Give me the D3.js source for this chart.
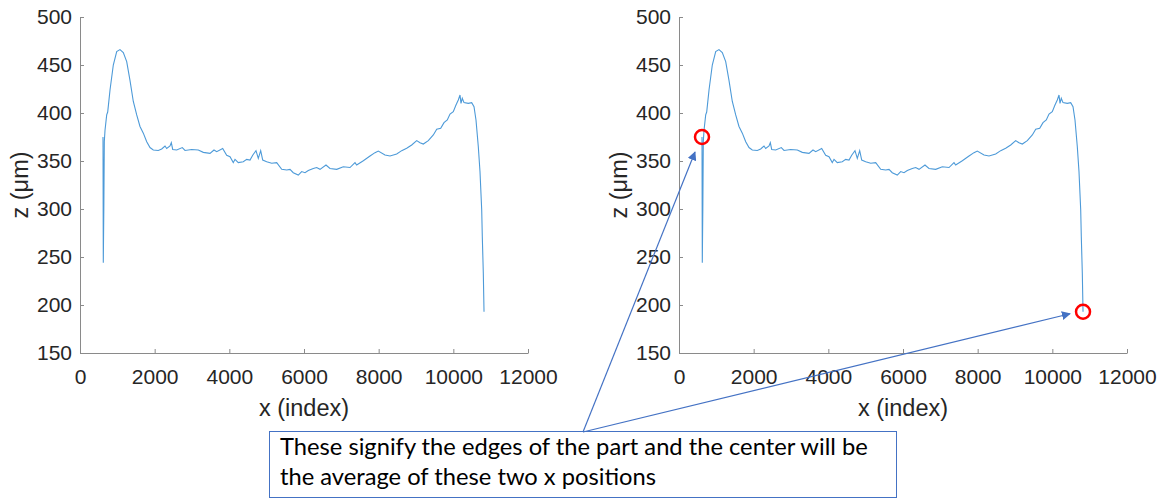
<!DOCTYPE html>
<html>
<head>
<meta charset="utf-8">
<script src="https://cdn.jsdelivr.net/npm/d3@7"></script>
<style>
  body { margin: 0; background: #fff; }
  svg { display: block; }
</style>
</head>
<body>
<svg></svg>
<script>
// profile: x index and height z in µm
let xIndex = [616, 624, 638, 651, 670, 715, 742, 804, 892, 983, 1071, 1160, 1251, 1339, 1428, 1519,
  1607, 1696, 1787, 1875, 1963, 2097, 2188, 2277, 2322, 2411, 2446, 2483, 2590, 2740, 2813, 2992,
  3169, 3303, 3482, 3589, 3662, 3822, 3929, 4018, 4106, 4152, 4240, 4374, 4465, 4554, 4626, 4714,
  4776, 4840, 4894, 5001, 5135, 5269, 5403, 5537, 5625, 5713, 5847, 5938, 6027, 6115, 6249, 6340,
  6429, 6589, 6696, 6876, 7053, 7232, 7366, 7411, 7589, 7768, 7902, 7990, 8170, 8304, 8483, 8617,
  8751, 8885, 9019, 9107, 9196, 9330, 9464, 9555, 9662, 9750, 9838, 9911, 9999, 10071, 10133, 10179,
  10205, 10240, 10286, 10401, 10492, 10554, 10607, 10669, 10714, 10760, 10776, 10803, 10822];
let zValue = [375, 244, 300, 370, 382, 398, 401, 424, 450, 464, 466, 463, 453.5, 434, 412, 398,
  386, 379, 370, 364, 361.5, 361, 362.5, 365.6, 363, 365.6, 369, 362, 361.5, 364, 361, 362,
  361.5, 359, 358, 361.5, 359.7, 363, 356, 354.5, 348.3, 351.7, 348.3, 349.3, 351.7, 351, 356, 360.8,
  352.8, 360.8, 351, 349.3, 347.6, 348.3, 341.3, 340.6, 341.3, 337.8, 335.4, 339, 337.8, 340, 342.2, 343.2,
  341.3, 345.8, 342.2, 341.3, 344, 343.2, 348.3, 345.8, 350.3, 355.2, 358.7, 360.4, 356.3, 355.2, 357.3, 360.8,
  363.2, 366.7, 371.2, 369.1, 367.7, 371.2, 377.1, 383, 384, 389.9, 392.7, 398.9, 401.4, 408.3, 413.5, 418.8,
  410, 415.3, 410.8, 410, 410.8, 406.6, 392.7, 364.9, 339, 299, 271, 233, 193];

let xTicks = [0, 2000, 4000, 6000, 8000, 10000, 12000];
let zTicks = [150, 200, 250, 300, 350, 400, 450, 500];
let xLabel = "x (index)";
let zLabel = "z (\u03bcm)";
let noteLines = ["These signify the edges of the part and the center will be",
  "the average of these two x positions"];

width = 1161;
height = 500;

let svg = d3.select("svg").attr("width", width).attr("height", height);

let plotW = 448, plotH = 336;
let x = d3.scaleLinear().domain([0, 12000]).range([0, plotW]);
let y = d3.scaleLinear().domain([150, 500]).range([plotH, 0]);

let points = xIndex.map((v, i) => [v, zValue[i]]);
// the two edges: first and last sample of the profile
let edges = [points[0], points[points.length - 1]];

let font = "'Liberation Sans', Arial, sans-serif";

function PANEL(left, top) {
    let g = svg.append("g").attr("transform", "translate(" + left + "," + top + ")");

    let xa = g.append("g")
        .attr("transform", "translate(0," + plotH + ")")
        .call(d3.axisBottom(x).tickValues(xTicks).tickFormat(d3.format("d"))
            .tickSizeInner(-4).tickSizeOuter(0).tickPadding(16));
    let ya = g.append("g")
        .call(d3.axisLeft(y).tickValues(zTicks).tickFormat(d3.format("d"))
            .tickSizeInner(-4).tickSizeOuter(0).tickPadding(8));

    [xa, ya].forEach(a => {
        a.attr("font-family", font).attr("font-size", 21);
        a.select(".domain").attr("stroke", "#8a8a8a");
        a.selectAll(".tick line").attr("stroke", "#8a8a8a");
        a.selectAll(".tick text").attr("fill", "#262626");
    });

    g.append("text")
        .attr("x", plotW / 2)
        .attr("y", plotH + 63)
        .attr("text-anchor", "middle")
        .attr("font-family", font)
        .attr("font-size", 23.5)
        .attr("fill", "#262626")
        .text(xLabel);

    g.append("text")
        .attr("transform", "translate(-52," + (plotH / 2) + ") rotate(-90)")
        .attr("text-anchor", "middle")
        .attr("font-family", font)
        .attr("font-size", 23.5)
        .attr("fill", "#262626")
        .text(zLabel);

    let line = d3.line().x(d => x(d[0])).y(d => y(d[1]));
    g.append("path")
        .attr("d", line(points))
        .style("fill", "none")
        .style("stroke", "#4d9ad8")
        .style("stroke-width", 1.1);

    return g;
}

let leftPanel = PANEL(80, 17);
let rightPanel = PANEL(679, 17);

// red circles on the right panel
rightPanel.selectAll("circle.edge")
    .data(edges)
    .enter()
    .append("circle")
    .attr("class", "edge")
    .attr("cx", d => x(d[0]))
    .attr("cy", d => y(d[1]))
    .attr("r", 7)
    .style("fill", "none")
    .style("stroke", "#ff0000")
    .style("stroke-width", 2.5);

// callout box
let note = svg.append("g");
note.append("rect")
    .attr("x", 269.5)
    .attr("y", 431.5)
    .attr("width", 627)
    .attr("height", 66)
    .style("fill", "#fff")
    .style("stroke", "#4472c4")
    .style("stroke-width", 1);

let t1 = note.append("text")
    .attr("x", 280)
    .attr("y", 455)
    .style("font-family", "Lato, 'Open Sans', sans-serif")
    .style("font-size", "20px")
    .attr("fill", "#000")
    .text(noteLines[0]);
let fs = 20 * 588 / t1.node().getComputedTextLength();
t1.style("font-size", fs + "px");
note.append("text")
    .attr("x", 280)
    .attr("y", 485)
    .style("font-family", "Lato, 'Open Sans', sans-serif")
    .style("font-size", fs + "px")
    .attr("fill", "#000")
    .text(noteLines[1]);

// arrows from the box to the circles
svg.append("defs").append("marker")
    .attr("id", "head")
    .attr("viewBox", "0 0 10 10")
    .attr("refX", 9)
    .attr("refY", 5)
    .attr("markerWidth", 9)
    .attr("markerHeight", 9)
    .attr("markerUnits", "userSpaceOnUse")
    .attr("orient", "auto")
    .append("path")
    .attr("d", "M0,0 L10,5 L0,10 Z")
    .style("fill", "#4472c4");

let origin = [583, 432];
let tipOffset = [[-7, 15], [-13, 2]];
edges.forEach((d, i) => {
    svg.append("line")
        .attr("x1", origin[0])
        .attr("y1", origin[1])
        .attr("x2", 679 + x(d[0]) + tipOffset[i][0])
        .attr("y2", 17 + y(d[1]) + tipOffset[i][1])
        .style("stroke", "#4472c4")
        .style("stroke-width", 1.2)
        .attr("marker-end", "url(#head)");
});
</script>
</body>
</html>
